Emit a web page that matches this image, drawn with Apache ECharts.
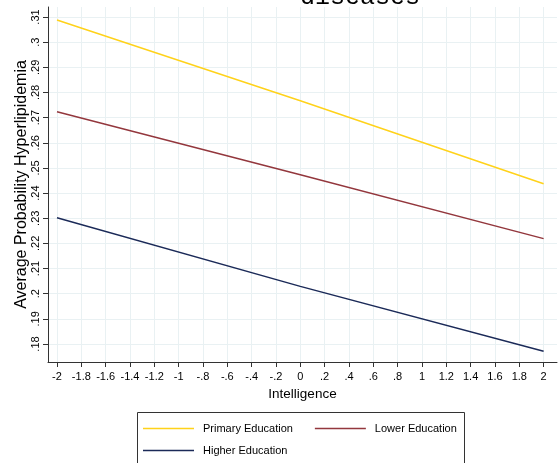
<!DOCTYPE html>
<html>
<head>
<meta charset="utf-8">
<script src="https://cdn.jsdelivr.net/npm/echarts@6/dist/echarts.min.js"></script>
<style>
html,body{margin:0;padding:0;background:#fff;}
#c{width:558px;height:463px;}
</style>
</head>
<body>
<div id="c"></div>
<script>
// ---- data ----
var xValues = [-2, 0, 2];
var primaryEducation = [0.3088, 0.2767, 0.2437];
var lowerEducation = [0.2723, 0.2473, 0.2219];
var higherEducation = [0.2302, 0.2029, 0.1771];
var xTicks = [-2, -1.8, -1.6, -1.4, -1.2, -1, -0.8, -0.6, -0.4, -0.2, 0, 0.2, 0.4, 0.6, 0.8, 1, 1.2, 1.4, 1.6, 1.8, 2];
var yTicks = [0.18, 0.19, 0.2, 0.21, 0.22, 0.23, 0.24, 0.25, 0.26, 0.27, 0.28, 0.29, 0.3, 0.31];
var seriesNames = ['Primary Education', 'Lower Education', 'Higher Education'];
var titleText = 'diseases';
var xTitle = 'Intelligence';
var yTitle = 'Average Probability Hyperlipidemia';

function fmt(v) {
  var s = String(Math.round(v * 1000) / 1000);
  s = s.replace(/^0\./, '.').replace(/^-0\./, '-.');
  return s;
}
function pairs(ys) { return xValues.map(function (x, i) { return [x, ys[i]]; }); }

var gridColor = '#e9f1f3';
var axisColor = '#333';
var font = 'Liberation Sans, Arial, sans-serif';
var colors = ['#ffd21a', '#93373d', '#1b2a58'];

var legendBase = {
  orient: 'horizontal', padding: 0, itemWidth: 51, itemHeight: 1.5, itemGap: 22, icon: 'rect',
  textStyle: {fontFamily: font, fontSize: 11, color: '#000', padding: [0, 0, 0, 4]}
};

var chart = echarts.init(document.getElementById('c'), null, {renderer: 'canvas'});
chart.setOption({
  backgroundColor: '#fff',
  animation: false,
  grid: {left: 48, top: 7, right: 1, bottom: 101, containLabel: false},
  graphic: [
    {type: 'text', x: 360, y: -15, style: {text: titleText, textAlign: 'center', font: '25px "Liberation Mono", "Courier New", monospace', fill: '#000'}, z: 10},
    {type: 'rect', shape: {x: 137.5, y: 412.5, width: 327, height: 60}, style: {fill: 'none', stroke: '#333', lineWidth: 1}, z: 1}
  ],
  xAxis: {
    type: 'value', min: -2.074, max: 2.11,
    name: xTitle, nameLocation: 'middle', nameGap: 23,
    nameTextStyle: {fontFamily: font, fontSize: 13.5, color: '#000'},
    axisLine: {show: true, onZero: false, lineStyle: {color: axisColor, width: 1}},
    axisTick: {show: true, length: 5, customValues: xTicks, lineStyle: {color: axisColor}},
    axisLabel: {customValues: xTicks, formatter: fmt, fontFamily: font, fontSize: 11, color: '#000', margin: 9, hideOverlap: false},
    splitLine: {show: true, lineStyle: {color: gridColor, width: 1}}
  },
  yAxis: {
    type: 'value', min: 0.17284, max: 0.31398,
    name: yTitle, nameLocation: 'middle', nameGap: 18, nameRotate: 90, nameMoveOverlap: false,
    nameTextStyle: {fontFamily: font, fontSize: 16, color: '#000'},
    axisLine: {show: true, onZero: false, lineStyle: {color: axisColor, width: 1}},
    axisTick: {show: true, length: 5, customValues: yTicks, lineStyle: {color: axisColor}},
    axisLabel: {customValues: yTicks, formatter: fmt, rotate: 90, fontFamily: font, fontSize: 11, color: '#000', margin: 7, hideOverlap: false},
    splitLine: {show: true, lineStyle: {color: gridColor, width: 1}}
  },
  legend: [
    Object.assign({}, legendBase, {data: seriesNames.slice(0, 2), left: 143, top: 423}),
    Object.assign({}, legendBase, {data: seriesNames.slice(2), left: 143, top: 445})
  ],
  series: [
    {name: seriesNames[0], type: 'line', data: pairs(primaryEducation), symbol: 'none', lineStyle: {color: colors[0], width: 1.5}, itemStyle: {color: colors[0]}},
    {name: seriesNames[1], type: 'line', data: pairs(lowerEducation), symbol: 'none', lineStyle: {color: colors[1], width: 1.5}, itemStyle: {color: colors[1]}},
    {name: seriesNames[2], type: 'line', data: pairs(higherEducation), symbol: 'none', lineStyle: {color: colors[2], width: 1.5}, itemStyle: {color: colors[2]}}
  ]
});
</script>
</body>
</html>
